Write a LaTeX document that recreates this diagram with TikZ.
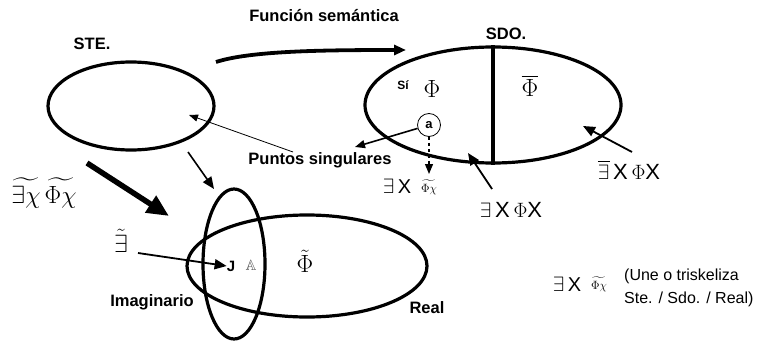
\documentclass[tikz,border=0pt]{standalone}
\usepackage{amsmath,amssymb}
\usepackage{fontspec}
\setmainfont{Liberation Sans}
\usetikzlibrary{arrows.meta,shapes.geometric}
\begin{document}
\begin{tikzpicture}[x=1pt,y=-1pt,
  ell/.style={draw, ellipse, line width=3.2pt, inner sep=0pt},
  lbl/.style={font=\fontsize{16.5}{19}\selectfont\bfseries, inner sep=0pt},
  tipbig/.style={-{Triangle[length=22pt,width=19pt]}},
  tipmid/.style={-{Triangle[length=12pt,width=10pt]}},
  tipsmall/.style={-{Triangle[length=10pt,width=8pt]}},
  mth/.style={inner sep=0pt}
]
\useasboundingbox (0,0) rectangle (759,342);

% ellipses
\node[ell, minimum width=166pt, minimum height=88pt] (ste) at (131,106) {};
\node[ell, minimum width=256pt, minimum height=116pt] (sdo) at (493,105) {};
\node[ell, minimum width=240pt, minimum height=102pt] (real) at (307,266) {};
\node[ell, minimum width=62pt, minimum height=150pt] (imag) at (234,264) {};
\draw[line width=3.2pt] (sdo.north) -- (sdo.south);

% labels
\node[lbl] (steL) at (92,44) {STE.};
\node[lbl] (fsL) at (324,16) {Función semántica};
\node[lbl] (sdoL) at (506,34) {SDO.};
\node[lbl] (psL) at (320,160) {Puntos singulares};
\node[lbl] (imL) at (152,302) {Imaginario};
\node[lbl] (reL) at (427,308) {Real};

% funcion semantica arrow
\coordinate (fs1) at (216,62);
\coordinate (fs2) at (406,50);
\draw[line width=3.8pt, tipmid] (fs1) .. controls (250,51) and (320,50) .. (fs2);

% SDO contents
\node[mth, font=\fontsize{12}{14}\selectfont\bfseries] (si) at (403,85) {Sí};
\node[mth, font=\fontsize{23}{26}\selectfont] (phi1) at (432,89) {$\Phi$};
\node[mth, font=\fontsize{23}{26}\selectfont] (phibar) at (530,86) {$\overline{\Phi}$};
\node[draw, circle, line width=0.8pt, minimum size=23pt, inner sep=0pt,
      font=\fontsize{13}{14}\selectfont\bfseries] (a) at (429,125) {a};
\coordinate (psTip) at (355,147);
\draw[line width=1.6pt, tipsmall] (a) -- (psTip);
\node[mth, font=\fontsize{20}{22}\selectfont] (exA) at (397,186) {$\exists$\,X};
\node[mth, font=\fontsize{13}{15}\selectfont] (phiA) at (429,187) {$\widetilde{\Phi\chi}$};
\coordinate (aTip) at (429,174);
\draw[line width=1.2pt, dashed, tipsmall] (a) -- (aTip);

% Puntos singulares pointer to STE
\coordinate (steTip) at (189,115);
\coordinate (psStart) at (293,152);
\draw[line width=0.8pt, -{Triangle[length=9pt,width=7pt]}] (psStart) -- (steTip);

% arrow to SDO bottom
\node[mth, font=\fontsize{22}{24}\selectfont] (exPhiX) at (511,210) {$\exists$\,X\,$\Phi$X};
\coordinate (sdo1) at (492,189);
\coordinate (sdoTip1) at (468,153);
\draw[line width=1.8pt, tipmid] (sdo1) -- (sdoTip1);

\node[mth, font=\fontsize{22}{24}\selectfont] (nexPhiX) at (629,170) {$\overline{\exists}$\,X\,$\Phi$X};
\coordinate (sdo2) at (632,152);
\coordinate (sdoTip2) at (583,126);
\draw[line width=1.8pt, tipmid] (sdo2) -- (sdoTip2);

% big arrow STE -> imag
\node[mth, font=\fontsize{25}{28}\selectfont] (bigL) at (44,193) {$\widetilde{\exists\chi}\,\widetilde{\Phi\chi}$};
\coordinate (big1) at (87,163);
\coordinate (big2) at (169,216);
\draw[line width=5.5pt, tipbig] (big1) -- (big2);

% small arrow STE -> imag
\coordinate (st1) at (188,152);
\coordinate (imTip) at (214,189);
\draw[line width=1.6pt, tipmid] (st1) -- (imTip);

% tilde exists arrow
\node[mth, font=\fontsize{24}{26}\selectfont] (tex) at (121,241) {$\tilde{\exists}$};
\node[mth, font=\fontsize{15}{17}\selectfont\bfseries] (J) at (231,266) {J};
\node[mth, font=\fontsize{15}{17}\selectfont] (AA) at (251,265) {\color{black!65}$\mathbb{A}$};
\coordinate (tx1) at (138,253);
\draw[line width=1.8pt, tipmid] (tx1) -- (J.west);
\node[mth, font=\fontsize{27}{30}\selectfont] (phiT) at (305,261) {$\tilde{\Phi}$};

% legend
\node[mth, font=\fontsize{20}{22}\selectfont] (legE) at (567,284) {$\exists$\,X};
\node[mth, font=\fontsize{13}{15}\selectfont] (legP) at (599,284) {$\widetilde{\Phi\chi}$};
\node[anchor=west, align=left, inner sep=0pt, font=\fontsize{16}{23}\selectfont] (legT) at (624,288) {(Une o triskeliza\\Ste. / Sdo. / Real)};
\end{tikzpicture}
\end{document}
